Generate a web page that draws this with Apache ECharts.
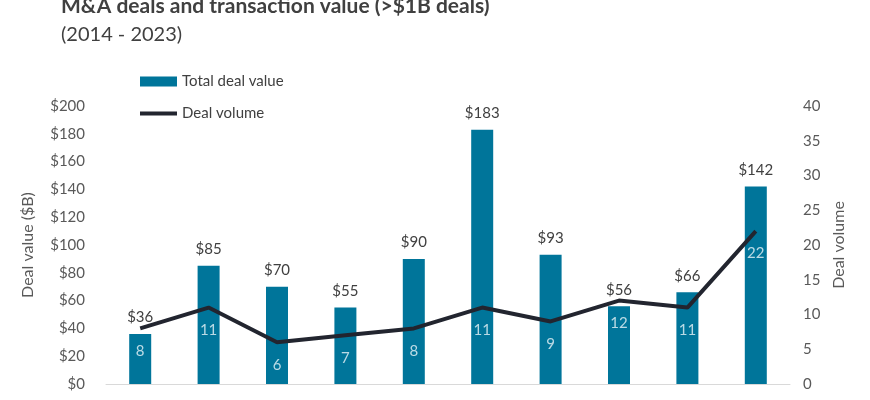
<!DOCTYPE html>
<html>
<head>
<meta charset="utf-8">
<script src="https://cdn.jsdelivr.net/npm/echarts@6/dist/echarts.min.js"></script>
<style>html,body{margin:0;padding:0;background:#fff}#c{width:870px;height:400px}</style>
</head>
<body>
<div id="c"></div>
<script>
var years = ['2014','2015','2016','2017','2018','2019','2020','2021','2022','2023'];
var dealValue = [36, 85, 70, 55, 90, 183, 93, 56, 66, 142];
var dealVolume = [8, 11, 6, 7, 8, 11, 9, 12, 11, 22];
var leftTicks = [0, 200, 20];
var rightTicks = [0, 40, 5];

var FONT = 'Lato';
var chart = echarts.init(document.getElementById('c'));
chart.setOption({
  animation: false,
  textStyle: { fontFamily: FONT },
  title: {
    left: 56, top: -9,
    text: 'M&A deals and transaction value (>$1B deals)',
    subtext: '(2014 - 2023)',
    itemGap: 8,
    textStyle: { fontFamily: FONT, fontSize: 21, fontWeight: 'bold', color: '#404040' },
    subtextStyle: { fontFamily: FONT, fontSize: 20, color: '#404040' }
  },
  legend: [
    {
      orient: 'vertical', left: 135, top: 69,
      itemWidth: 37, itemHeight: 10,
      textStyle: { fontFamily: FONT, fontSize: 15, color: '#404040' },
      data: [ { name: 'Total deal value', icon: 'rect' } ]
    },
    {
      orient: 'vertical', left: 135, top: 101,
      itemWidth: 37, itemHeight: 4,
      textStyle: { fontFamily: FONT, fontSize: 15, color: '#404040' },
      data: [ { name: 'Deal volume', icon: 'rect' } ]
    }
  ],
  grid: { left: 106, right: 80, top: 106, bottom: 16, containLabel: false, outerBoundsMode: 'none' },
  xAxis: {
    type: 'category', data: years,
    axisLine: { lineStyle: { color: '#d9d9d9', width: 1 } },
    axisTick: { show: false },
    axisLabel: { fontFamily: FONT, fontSize: 15, color: '#595959', margin: 15 }
  },
  yAxis: [
    {
      type: 'value', min: leftTicks[0], max: leftTicks[1], interval: leftTicks[2],
      name: 'Deal value ($B)', nameLocation: 'middle', nameGap: 70, nameRotate: 90,
      nameTextStyle: { fontFamily: FONT, fontSize: 16, color: '#595959' },
      splitLine: { show: false },
      axisLine: { show: false }, axisTick: { show: false },
      axisLabel: { fontFamily: FONT, fontSize: 15, color: '#595959', margin: 21, formatter: function(v){ return '$' + v; } }
    },
    {
      type: 'value', min: rightTicks[0], max: rightTicks[1], interval: rightTicks[2],
      name: 'Deal volume', nameLocation: 'middle', nameGap: 40, nameRotate: 90,
      nameTextStyle: { fontFamily: FONT, fontSize: 16, color: '#595959' },
      splitLine: { show: false },
      axisLine: { show: false }, axisTick: { show: false },
      axisLabel: { fontFamily: FONT, fontSize: 15, color: '#595959', margin: 13 }
    }
  ],
  series: [
    {
      name: 'Total deal value', type: 'bar', data: dealValue, barWidth: 22,
      itemStyle: { color: '#00759a' },
      label: { show: true, position: 'top', distance: 9, fontFamily: FONT, fontSize: 15, color: '#404040',
        formatter: function(p){ return '$' + p.value; } }
    },
    {
      name: 'Deal volume', type: 'line', yAxisIndex: 1, data: dealVolume,
      symbol: 'none', lineStyle: { color: '#22252f', width: 4 },
      itemStyle: { color: '#22252f' },
      z: 3
    },
    {
      name: 'Deal volume labels', type: 'scatter', yAxisIndex: 1, data: dealVolume,
      symbolSize: 0.01, itemStyle: { color: 'rgba(0,0,0,0)' }, silent: true,
      label: { show: true, position: 'bottom', distance: 15, fontFamily: FONT, fontSize: 15, color: '#e8f4f8' },
      z: 4
    }
  ]
});
</script>
</body>
</html>
